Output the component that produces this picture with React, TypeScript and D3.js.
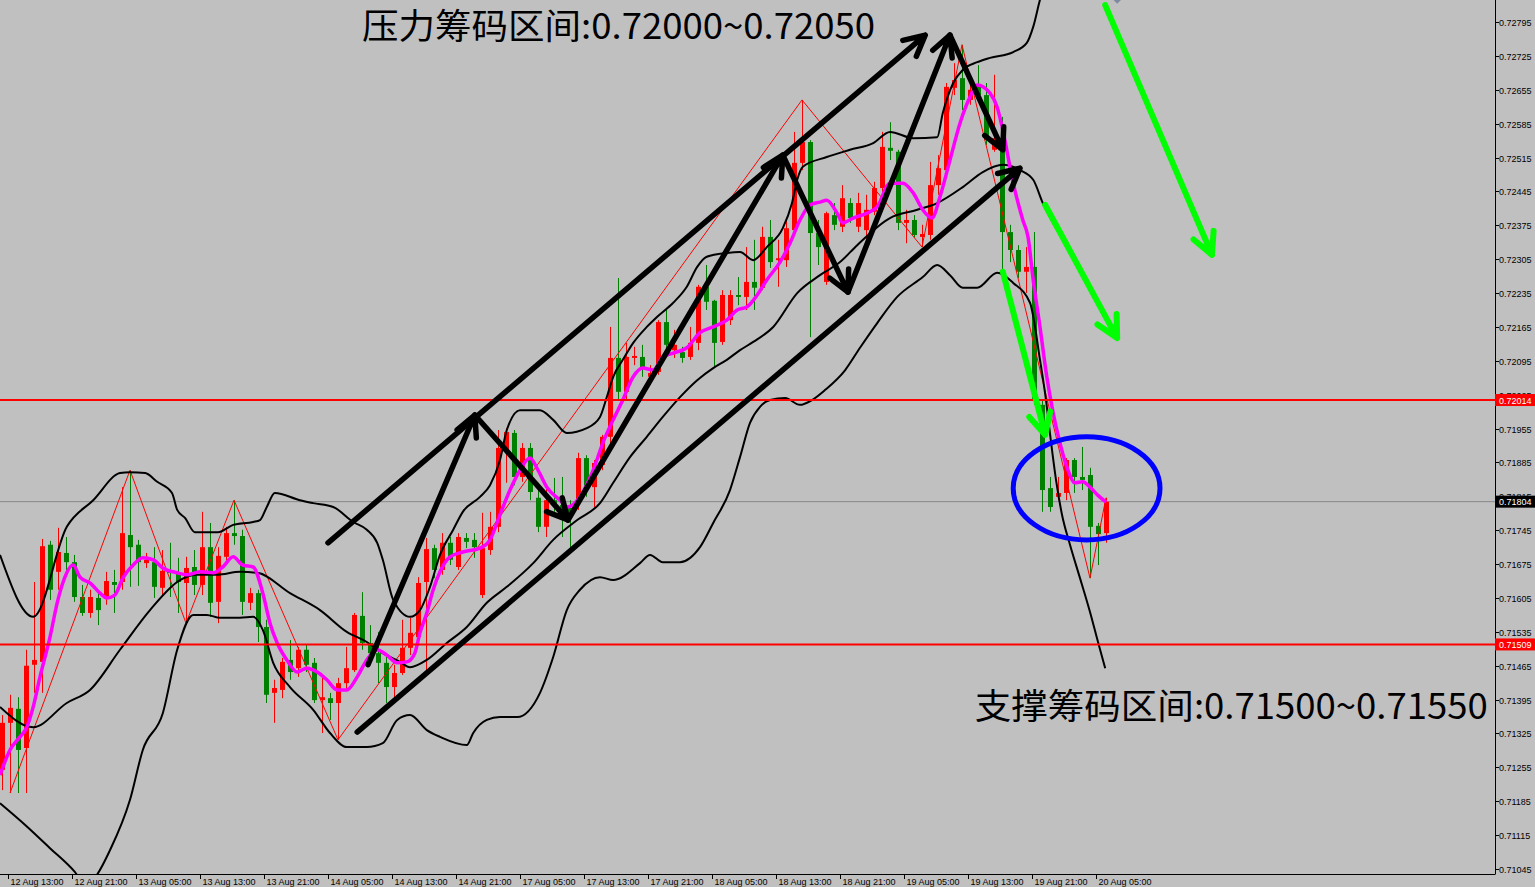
import React, { useEffect } from "react";
import * as d3 from "d3";

// ---------- DATA (H1 bars, index 0 = 12 Aug 12:00) ----------
const candleOpen = [
  0.7125, 0.71347, 0.71376, 0.71295, 0.71467, 0.71473, 0.71715, 0.71659, 0.71698, 0.71679,
  0.71607, 0.71574, 0.71605, 0.71603, 0.71638, 0.71638, 0.71735, 0.71715, 0.71677, 0.71679,
  0.71626, 0.71661, 0.71657, 0.71636, 0.71669, 0.71632, 0.7171, 0.71597, 0.7169, 0.71739,
  0.71733, 0.71595, 0.71615, 0.71545, 0.71409, 0.71415, 0.71477, 0.7146, 0.71498, 0.71471,
  0.71394, 0.71398, 0.71388, 0.71429, 0.71456, 0.71568, 0.71512, 0.71491, 0.71471, 0.71421,
  0.7145, 0.71502, 0.71524, 0.71638, 0.71708, 0.71663, 0.71719, 0.71669, 0.71729, 0.71725,
  0.71611, 0.71704, 0.71752, 0.71911, 0.71946, 0.71855, 0.71915, 0.71812, 0.71752, 0.71807,
  0.71797, 0.71791, 0.71801, 0.71894, 0.71834, 0.7188, 0.71938, 0.72101, 0.72031, 0.72101,
  0.72103, 0.72062, 0.72072, 0.72175, 0.72117, 0.72113, 0.72103, 0.72132, 0.72248, 0.72219,
  0.72134, 0.72179, 0.72231, 0.72227, 0.72258, 0.72246, 0.72351, 0.72303, 0.72303, 0.72365,
  0.72504, 0.72547, 0.72359, 0.72258, 0.72396, 0.72372, 0.72421, 0.72372, 0.72365, 0.72403,
  0.72452, 0.72535, 0.72527, 0.7238, 0.72386, 0.72351, 0.72355, 0.72458, 0.72489, 0.72659,
  0.72679, 0.72634, 0.72665, 0.72644, 0.72531, 0.72531, 0.72361, 0.72324, 0.72279, 0.72289,
  0.72004, 0.71832, 0.71814, 0.71822, 0.7189, 0.71855, 0.71859, 0.71754, 0.71739,
];
const candleHigh = [
  0.71363, 0.71405, 0.714, 0.71498, 0.71638, 0.71727, 0.71723, 0.7175, 0.71731, 0.71694,
  0.71632, 0.71622, 0.71617, 0.71659, 0.71663, 0.71834, 0.71869, 0.71725, 0.71698, 0.7171,
  0.71704, 0.71719, 0.71688, 0.7169, 0.71704, 0.71783, 0.7176, 0.7171, 0.71752, 0.71807,
  0.71746, 0.71626, 0.71622, 0.7156, 0.71436, 0.71481, 0.71518, 0.71504, 0.71508, 0.71481,
  0.71442, 0.71409, 0.7144, 0.71504, 0.71574, 0.71617, 0.71549, 0.71535, 0.71483, 0.71467,
  0.7156, 0.71564, 0.71648, 0.71729, 0.71715, 0.71739, 0.71731, 0.71739, 0.71739, 0.71739,
  0.71781, 0.71783, 0.71952, 0.71956, 0.71952, 0.71925, 0.71925, 0.71843, 0.71834, 0.71853,
  0.71855, 0.71807, 0.71905, 0.719, 0.7189, 0.71942, 0.72165, 0.72266, 0.72132, 0.72124,
  0.72128, 0.72086, 0.72179, 0.722, 0.72159, 0.72124, 0.72165, 0.72252, 0.72293, 0.72221,
  0.72241, 0.72241, 0.72268, 0.7233, 0.72345, 0.72372, 0.72386, 0.72345, 0.72386, 0.72568,
  0.72634, 0.72551, 0.72386, 0.72403, 0.72421, 0.72458, 0.72431, 0.72442, 0.72438, 0.72465,
  0.72568, 0.72588, 0.72531, 0.72407, 0.72396, 0.72376, 0.72506, 0.7252, 0.72669, 0.7271,
  0.72748, 0.72679, 0.72706, 0.72669, 0.72686, 0.72599, 0.72376, 0.72334, 0.7233, 0.72361,
  0.72014, 0.71855, 0.71855, 0.71894, 0.71894, 0.71917, 0.71874, 0.7176, 0.71812,
];
const candleLow = [
  0.71208, 0.71202, 0.71202, 0.71202, 0.71409, 0.71409, 0.71601, 0.71622, 0.71653, 0.71597,
  0.71568, 0.71564, 0.71549, 0.71591, 0.71574, 0.71622, 0.71628, 0.7163, 0.71667, 0.71605,
  0.71607, 0.71607, 0.71574, 0.71553, 0.71611, 0.71611, 0.71566, 0.71553, 0.71673, 0.71715,
  0.7157, 0.7158, 0.71514, 0.71388, 0.71347, 0.71398, 0.71436, 0.71442, 0.71452, 0.71388,
  0.71326, 0.71353, 0.71312, 0.71415, 0.71452, 0.71498, 0.71477, 0.71429, 0.71388, 0.71394,
  0.71446, 0.71487, 0.71514, 0.71456, 0.71646, 0.71653, 0.71673, 0.71663, 0.71708, 0.71688,
  0.71605, 0.71694, 0.71741, 0.71843, 0.71838, 0.71845, 0.71807, 0.71741, 0.71731, 0.71783,
  0.71731, 0.7171, 0.71787, 0.71814, 0.71793, 0.71869, 0.71921, 0.72014, 0.72014, 0.72086,
  0.72062, 0.72045, 0.72066, 0.72113, 0.72101, 0.72091, 0.72097, 0.72117, 0.722, 0.7208,
  0.72128, 0.72169, 0.7221, 0.722, 0.722, 0.72241, 0.72287, 0.72248, 0.72289, 0.72355,
  0.72489, 0.72144, 0.72293, 0.72252, 0.72365, 0.72361, 0.7238, 0.72361, 0.72345, 0.72396,
  0.72444, 0.7251, 0.72365, 0.72338, 0.72349, 0.7233, 0.72345, 0.72438, 0.72479, 0.72644,
  0.72613, 0.72624, 0.72634, 0.72541, 0.72527, 0.72277, 0.72299, 0.72266, 0.72235, 0.72004,
  0.71783, 0.71783, 0.71807, 0.71807, 0.71822, 0.71828, 0.71646, 0.71673, 0.71719,
];
const candleClose = [
  0.71347, 0.71378, 0.71291, 0.71465, 0.71477, 0.71712, 0.71622, 0.717, 0.71679, 0.71607,
  0.71574, 0.71607, 0.7158, 0.7164, 0.71632, 0.71739, 0.7171, 0.71679, 0.71684, 0.71628,
  0.71661, 0.71657, 0.71638, 0.71667, 0.71632, 0.7171, 0.71595, 0.71692, 0.71739, 0.71733,
  0.71597, 0.71615, 0.71545, 0.71405, 0.71419, 0.71473, 0.71452, 0.71498, 0.71467, 0.71394,
  0.714, 0.71388, 0.71429, 0.7146, 0.7157, 0.71512, 0.71491, 0.71471, 0.71421, 0.7145,
  0.71502, 0.71533, 0.71636, 0.71706, 0.71663, 0.71719, 0.71684, 0.71731, 0.71721, 0.7171,
  0.71708, 0.71752, 0.71915, 0.71948, 0.71855, 0.71915, 0.71824, 0.71752, 0.71807, 0.71797,
  0.71787, 0.71777, 0.71894, 0.71834, 0.71884, 0.71938, 0.72101, 0.72031, 0.72103, 0.72105,
  0.72082, 0.7207, 0.72175, 0.72128, 0.72128, 0.72101, 0.72132, 0.72248, 0.72217, 0.72132,
  0.72231, 0.72231, 0.72227, 0.72258, 0.72246, 0.72351, 0.72299, 0.72307, 0.72369, 0.72504,
  0.72547, 0.72359, 0.7233, 0.724, 0.72376, 0.72431, 0.7239, 0.72421, 0.72407, 0.72452,
  0.72537, 0.72529, 0.7238, 0.72386, 0.72355, 0.72357, 0.72458, 0.72493, 0.72661, 0.72675,
  0.72634, 0.72655, 0.72644, 0.72551, 0.72555, 0.72361, 0.72324, 0.72279, 0.72289, 0.72014,
  0.71828, 0.71793, 0.71822, 0.7189, 0.71855, 0.71849, 0.71752, 0.71737, 0.71804,
];

// indicator lines: [bar index, price]
const maLine: [number, number][] = [
  [-0.25, 0.71239], [1, 0.71291], [2.25, 0.71318], [3.1, 0.71338], [3.9, 0.7138], [4.75, 0.71442],
  [6, 0.71524], [6.9, 0.71595], [7.6, 0.71636], [8.9, 0.71673], [9.75, 0.71648], [11, 0.71636],
  [12.25, 0.71615], [13.1, 0.71605], [14.1, 0.71611], [15.1, 0.71646], [16.4, 0.71673], [17.6, 0.71688],
  [18.9, 0.71684], [20.1, 0.71667], [21.9, 0.71657], [23.1, 0.71653], [24.75, 0.71659], [26.4, 0.71657],
  [27.6, 0.71669], [28.9, 0.7169], [30.1, 0.71673], [31.4, 0.71669], [32.6, 0.71615], [33.5, 0.71553],
  [34.4, 0.71512], [35.6, 0.71477], [36.9, 0.71452], [38.1, 0.7146], [39.4, 0.71452], [40.6, 0.71436],
  [41.9, 0.71415], [43.1, 0.71415], [44.4, 0.71442], [45.6, 0.71477], [46.9, 0.71498], [48.1, 0.71487],
  [49.4, 0.71471], [50.6, 0.71473], [51.6, 0.71491], [52.25, 0.71533], [53.1, 0.71574], [53.9, 0.71622],
  [54.75, 0.71659], [56, 0.7169], [57.6, 0.717], [59.75, 0.71708], [61, 0.71725], [62.25, 0.71777],
  [63.5, 0.71828], [64.75, 0.71869], [66, 0.71894], [67, 0.71869], [68.1, 0.71834], [69.75, 0.71807],
  [70.75, 0.71793], [72.25, 0.71814], [73.9, 0.71869], [75.1, 0.71925], [76.4, 0.71973], [77.6, 0.72014],
  [78.9, 0.72062], [80.1, 0.7208], [81.4, 0.72076], [82.6, 0.72103], [83.9, 0.72111], [85.6, 0.72122],
  [87.25, 0.72153], [88.9, 0.72165], [90.6, 0.72179], [91.9, 0.722], [93.1, 0.72206], [94.4, 0.72231],
  [95.6, 0.72262], [97.25, 0.72299], [98.5, 0.72338], [99.75, 0.72386], [101, 0.72417], [102.25, 0.72423],
  [103.1, 0.72427], [104.4, 0.724], [105.1, 0.7238], [106.4, 0.7239], [108.1, 0.724], [109.4, 0.72413],
  [111, 0.72462], [112.6, 0.72462], [113.9, 0.72442], [115.1, 0.72407], [116.25, 0.7239], [117.25, 0.72434],
  [118.5, 0.7251], [119.75, 0.72586], [121, 0.7264], [121.9, 0.72665], [123.5, 0.72648], [124.4, 0.72619],
  [125.1, 0.72572], [126.4, 0.72462], [127.6, 0.72386], [128.25, 0.72351], [128.9, 0.72262], [129.75, 0.72165],
  [130.6, 0.72062], [131.4, 0.71987], [132.25, 0.71925], [133.25, 0.71869], [134.1, 0.71843], [135.1, 0.71845],
  [136, 0.71834], [137, 0.71817], [138, 0.71803],
];
const bbUpper: [number, number][] = [
  [-0.25, 0.71694], [3.9, 0.71566], [8.1, 0.71752], [11.4, 0.71807], [14.75, 0.71863], [16, 0.71865],
  [17.9, 0.71863], [19.4, 0.71845], [21.25, 0.71822], [21.9, 0.71787], [22.9, 0.7177], [24.1, 0.71741],
  [27, 0.71741], [28.9, 0.71756], [31.4, 0.71762], [32.25, 0.71766], [33.1, 0.71793], [34.1, 0.71822],
  [37.25, 0.71807], [38.9, 0.71801], [41.4, 0.71793], [43.9, 0.71762], [45.6, 0.71746], [46.9, 0.71719],
  [47.6, 0.71684], [48.9, 0.71601], [51, 0.71566], [52.25, 0.7158], [53.5, 0.71628], [54.75, 0.71694],
  [56.4, 0.71746], [57.6, 0.71783], [59.75, 0.71814], [61, 0.71838], [62.25, 0.7189], [63.1, 0.71952],
  [64.75, 0.71993], [67.25, 0.71993], [68.9, 0.71973], [70.6, 0.71946], [73.1, 0.71956], [74.75, 0.71979],
  [75.6, 0.7202], [76.4, 0.72062], [77.6, 0.72097], [78.9, 0.72132], [80.6, 0.72165], [81.9, 0.72186],
  [83.9, 0.72215], [85.6, 0.72248], [86.9, 0.72289], [88.1, 0.7231], [90.6, 0.72318], [92.25, 0.7232],
  [93.9, 0.72303], [95.6, 0.7233], [97.6, 0.72369], [98.75, 0.72421], [99.4, 0.72469], [100.1, 0.72496],
  [103.1, 0.72516], [106, 0.72531], [108.9, 0.72545], [111, 0.72568], [113.9, 0.72555], [116.9, 0.72557],
  [117.6, 0.72607], [118.9, 0.72669], [120.1, 0.72696], [121.9, 0.72712], [123.5, 0.72721], [126.4, 0.72733],
  [128.1, 0.72752], [128.9, 0.72785], [129.75, 0.72841], [130.75, 0.72892], [138, 0.7297],
];
const bbMiddle: [number, number][] = [
  [-0.25, 0.7138], [3.9, 0.71338], [8.1, 0.71388], [11, 0.71415], [14.75, 0.71498], [18.5, 0.7158],
  [22.25, 0.71642], [24.4, 0.71653], [26.9, 0.71653], [29.75, 0.71659], [31.9, 0.71657], [36, 0.71615],
  [39.75, 0.7158], [43.1, 0.71535], [45.6, 0.71514], [47.6, 0.71491], [49.75, 0.71473], [51, 0.71462],
  [53.1, 0.71477], [55.6, 0.71512], [58.1, 0.71545], [60.6, 0.71595], [63.1, 0.71628], [66.4, 0.71677],
  [68.9, 0.71725], [71.9, 0.71766], [74.75, 0.71801], [76.4, 0.71843], [78.5, 0.71896], [80.6, 0.71938],
  [82.6, 0.71979], [84.75, 0.7202], [86.9, 0.72055], [88.9, 0.7208], [90.6, 0.72097], [92.25, 0.72117],
  [93.9, 0.72134], [96.4, 0.72165], [99.4, 0.72235], [102.25, 0.72272], [104.75, 0.72299], [106.9, 0.72334],
  [111, 0.7239], [114.4, 0.72407], [116.9, 0.72421], [120.1, 0.72454], [122.6, 0.72485], [125.1, 0.725],
  [127.25, 0.72489], [128.9, 0.72469], [130.1, 0.72421], [132.25, 0.72355], [134.75, 0.72283], [136.6, 0.72231],
  [138, 0.7219],
];
const bbLower: [number, number][] = [
  [-0.25, 0.71181], [2.9, 0.71136], [6, 0.71088], [9.1, 0.71039], [10.4, 0.71012], [11.6, 0.71027],
  [13.5, 0.71084], [16, 0.71188], [17.6, 0.71291], [20.1, 0.71367], [21.9, 0.71498], [23.9, 0.7157],
  [25.6, 0.7157], [27.25, 0.71564], [29.75, 0.71564], [31.4, 0.71566], [32.6, 0.71539], [33.9, 0.71471],
  [36, 0.71421], [38.9, 0.71374], [41, 0.71326], [43.1, 0.71297], [45.6, 0.71297], [47.6, 0.71305],
  [49.4, 0.71353], [51, 0.71363], [53.1, 0.71332], [54.75, 0.71318], [58.1, 0.71301], [58.9, 0.71326],
  [60.6, 0.71353], [62.25, 0.71359], [64.4, 0.71359], [67.25, 0.71409], [68.9, 0.71483], [70.6, 0.7158],
  [72.25, 0.71622], [74.75, 0.71648], [76.4, 0.71642], [79.75, 0.71677], [81, 0.71694], [82.6, 0.71679],
  [84.75, 0.71679], [87.25, 0.7171], [88.9, 0.7176], [91, 0.71828], [92.25, 0.71896], [93.5, 0.71967],
  [94.75, 0.72], [96, 0.72014], [97.9, 0.72018], [99.75, 0.72004], [101.25, 0.72014], [102.9, 0.72035],
  [105.4, 0.72076], [107.25, 0.72122], [109.4, 0.72173], [111.9, 0.72227], [115.1, 0.72268], [116.9, 0.72293],
  [118.5, 0.72272], [120.1, 0.72246], [121.9, 0.72246], [124.4, 0.72277], [126.4, 0.72256], [128.5, 0.72215],
  [129.75, 0.72097], [130.5, 0.72014], [131.1, 0.71931], [131.75, 0.71849], [132.5, 0.71777], [133.5, 0.71715],
  [134.75, 0.71646], [136, 0.71576], [137, 0.71514], [137.9, 0.7146],
];
const zigzag: [number, number][] = [
  [1, 0.71202], [16, 0.71869], [23, 0.71553], [29, 0.71807], [42, 0.71312],
  [100, 0.72634], [115, 0.7233], [120, 0.72748], [136, 0.71646], [138, 0.71812],
];

const priceTicks = [
  "0.72795", "0.72725", "0.72655", "0.72585", "0.72515", "0.72445", "0.72375", "0.72305", "0.72235",
  "0.72165", "0.72095", "0.72025", "0.71955", "0.71885", "0.71815", "0.71745", "0.71675", "0.71605",
  "0.71535", "0.71465", "0.71395", "0.71325", "0.71255", "0.71185", "0.71115", "0.71045",
];
const timeTickBars = [1, 9, 17, 25, 33, 41, 49, 57, 65, 73, 81, 89, 97, 105, 113, 121, 129, 137];
const timeTickLabels = [
  "12 Aug 13:00", "12 Aug 21:00", "13 Aug 05:00", "13 Aug 13:00", "13 Aug 21:00", "14 Aug 05:00",
  "14 Aug 13:00", "14 Aug 21:00", "17 Aug 05:00", "17 Aug 13:00", "17 Aug 21:00", "18 Aug 05:00",
  "18 Aug 13:00", "18 Aug 21:00", "19 Aug 05:00", "19 Aug 13:00", "19 Aug 21:00", "20 Aug 05:00",
];

const resistLevel = 0.72014;
const supportLevel = 0.71509;
const lastPrice = 0.71804;

// hand-drawn annotations in data space: [bar1, price1, bar2, price2]
const blackArrows: [number, number, number, number][] = [
  [40.75, 0.71719, 115.4, 0.72768],
  [44.4, 0.71328, 127.25, 0.72493],
  [45.75, 0.71467, 59.1, 0.71983],
  [59.1, 0.71983, 70.75, 0.71766],
  [70.75, 0.71766, 97.6, 0.7252],
  [97.6, 0.7252, 105.75, 0.72237],
  [105.75, 0.72237, 118.5, 0.72768],
  [118.5, 0.72768, 125.1, 0.72531],
];
const greenArrows: [number, number, number, number][] = [
  [125.1, 0.72279, 130.4, 0.71942],
  [130.4, 0.72417, 139.4, 0.72142],
  [137.9, 0.7283, 151.25, 0.72314],
];
const ellipseBars = [126.4, 144.75];
const ellipsePrices = [0.71938, 0.71725];
const resistText = "压力筹码区间:0.72000~0.72050";
const supportText = "支撑筹码区间:0.71500~0.71550";
const resistTextAnchor = [45, 0.72759];
const supportTextAnchor = [121.6, 0.71355];

export default function App() {
  useEffect(() => {
    document.body.style.margin = "0";
  }, []);

  const W = 1535;
  const H = 887;
  const plotW = 1495;
  const plotH = 874;

  const x = d3.scaleLinear().domain([-0.25, 186.625]).range([0, plotW]);
  const y = d3.scaleLinear().domain([0.710347, 0.728405]).range([plotH, 0]);

  const smooth = d3
    .line<[number, number]>()
    .x((d) => x(d[0]))
    .y((d) => y(d[1]))
    .curve(d3.curveMonotoneX);
  const straight = d3
    .line<[number, number]>()
    .x((d) => x(d[0]))
    .y((d) => y(d[1]));

  const arrowPath = (a: [number, number, number, number], head: number) => {
    const x1 = x(a[0]), y1 = y(a[1]), x2 = x(a[2]), y2 = y(a[3]);
    const ang = Math.atan2(y2 - y1, x2 - x1);
    const spread = (27 * Math.PI) / 180;
    const hx1 = x2 - head * Math.cos(ang - spread);
    const hy1 = y2 - head * Math.sin(ang - spread);
    const hx2 = x2 - head * Math.cos(ang + spread);
    const hy2 = y2 - head * Math.sin(ang + spread);
    const p = d3.path();
    p.moveTo(x1, y1);
    p.lineTo(x2, y2);
    p.moveTo(hx1, hy1);
    p.lineTo(x2, y2);
    p.lineTo(hx2, hy2);
    return p.toString();
  };

  const bodyW = 5;
  const axisFont = "'Liberation Sans', Arial, sans-serif";
  const cjkFont = "'Noto Sans CJK SC', 'Noto Sans CJK JP', sans-serif";

  const ex0 = x(ellipseBars[0]), ex1 = x(ellipseBars[1]);
  const ey0 = y(ellipsePrices[0]), ey1 = y(ellipsePrices[1]);

  const priceBox = (p: number, fill: string) => (
    <g key={"box" + p}>
      <rect x={plotW} y={y(p) - 6} width={W - plotW} height={12} fill={fill} />
      <text x={plotW + 4} y={y(p) + 3.5} fontSize={9} fill="#ffffff" fontFamily={axisFont}>
        {p.toFixed(5)}
      </text>
    </g>
  );

  return (
    <svg
      width={W}
      height={H}
      style={{ position: "absolute", left: 0, top: 0, display: "block" }}
      xmlns="http://www.w3.org/2000/svg"
    >
      <defs>
        <clipPath id="plotClip">
          <rect x={0} y={0} width={plotW} height={plotH} />
        </clipPath>
      </defs>
      <rect x={0} y={0} width={W} height={H} fill="#c0c0c0" />

      <g clipPath="url(#plotClip)">
        {/* last price line */}
        <line x1={0} x2={plotW} y1={y(lastPrice)} y2={y(lastPrice)} stroke="#888888" strokeWidth={1} />

        {/* candles */}
        {candleOpen.map((o, i) => {
          const c = candleClose[i];
          const up = c >= o;
          const col = up ? "#ff0000" : "#008000";
          const cx = Math.round(x(i)) + 0.5;
          const top = y(Math.max(o, c));
          const bot = y(Math.min(o, c));
          return (
            <g key={"c" + i}>
              <line x1={cx} x2={cx} y1={y(candleHigh[i])} y2={y(candleLow[i])} stroke={col} strokeWidth={1} />
              <rect x={cx - bodyW / 2} y={top} width={bodyW} height={Math.max(1.5, bot - top)} fill={col} />
            </g>
          );
        })}

        {/* zigzag */}
        <path d={straight(zigzag) || ""} fill="none" stroke="#ff0000" strokeWidth={1} />

        {/* bollinger */}
        {[bbUpper, bbMiddle, bbLower].map((b, i) => (
          <path key={"bb" + i} d={smooth(b) || ""} fill="none" stroke="#000000" strokeWidth={2} strokeLinejoin="round" />
        ))}

        {/* moving average */}
        <path d={smooth(maLine) || ""} fill="none" stroke="#ff00ff" strokeWidth={3.5} strokeLinejoin="round" />

        {/* horizontal levels */}
        {[resistLevel, supportLevel].map((p) => (
          <line key={"lv" + p} x1={0} x2={plotW} y1={y(p)} y2={y(p)} stroke="#ff0000" strokeWidth={2} />
        ))}

        {/* black trend arrows */}
        {blackArrows.map((a, i) => (
          <path
            key={"ba" + i}
            d={arrowPath(a, 23)}
            fill="none"
            stroke="#000000"
            strokeWidth={5.5}
            strokeLinecap="round"
            strokeLinejoin="round"
          />
        ))}

        {/* green arrows */}
        {greenArrows.map((a, i) => (
          <path
            key={"ga" + i}
            d={arrowPath(a, 24)}
            fill="none"
            stroke="#00ff00"
            strokeWidth={6}
            strokeLinecap="round"
            strokeLinejoin="round"
          />
        ))}

        {/* blue ellipse */}
        <ellipse
          cx={(ex0 + ex1) / 2}
          cy={(ey0 + ey1) / 2}
          rx={(ex1 - ex0) / 2}
          ry={(ey1 - ey0) / 2}
          fill="none"
          stroke="#0000ff"
          strokeWidth={5}
        />

        {/* small object at top edge */}
        <rect
          x={x(139.4) - 4}
          y={-6}
          width={8}
          height={8}
          fill="#7d8aa0"
          transform={`rotate(45 ${x(139.4)} -2)`}
        />
      </g>

      {/* texts */}
      <text
        x={x(resistTextAnchor[0])}
        y={y(resistTextAnchor[1])}
        fontSize={35}
        fontFamily={cjkFont}
        fill="#000000"
        textLength={513}
        lengthAdjust="spacingAndGlyphs"
      >
        {resistText}
      </text>
      <text
        x={x(supportTextAnchor[0])}
        y={y(supportTextAnchor[1])}
        fontSize={35}
        fontFamily={cjkFont}
        fill="#000000"
        textLength={513}
        lengthAdjust="spacingAndGlyphs"
      >
        {supportText}
      </text>

      {/* axes */}
      <line x1={plotW + 0.5} x2={plotW + 0.5} y1={0} y2={plotH} stroke="#000000" strokeWidth={1} />
      <line x1={0} x2={plotW + 0.5} y1={plotH + 0.5} y2={plotH + 0.5} stroke="#000000" strokeWidth={1} />

      {priceTicks.map((t) => {
        const yy = Math.round(y(+t)) + 0.5;
        return (
          <g key={"pt" + t}>
            <line x1={plotW} x2={plotW + 4} y1={yy} y2={yy} stroke="#000000" strokeWidth={1} />
            <text x={plotW + 4} y={yy + 3.5} fontSize={9} fill="#000000" fontFamily={axisFont}>
              {t}
            </text>
          </g>
        );
      })}

      {timeTickBars.map((b, i) => {
        const xx = Math.round(x(b)) - 1.5;
        return (
          <g key={"tt" + b}>
            <line x1={xx} x2={xx} y1={plotH} y2={plotH + 5} stroke="#000000" strokeWidth={1} />
            <text x={xx + 2} y={plotH + 11} fontSize={9} fill="#000000" fontFamily={axisFont}>
              {timeTickLabels[i]}
            </text>
          </g>
        );
      })}

      {priceBox(resistLevel, "#ff0000")}
      {priceBox(supportLevel, "#ff0000")}
      {priceBox(lastPrice, "#000000")}
    </svg>
  );
}
